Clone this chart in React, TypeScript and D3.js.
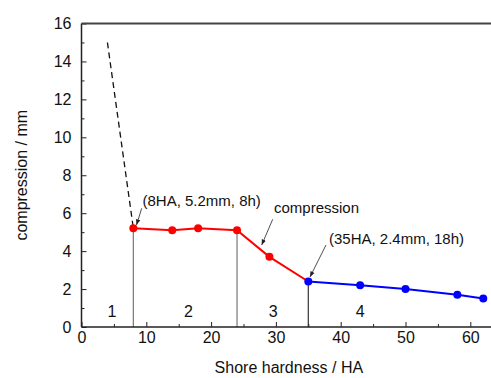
import * as d3 from "d3";
import { useRef, useEffect } from "react";

// stage 2-3 (red) and stage 4 (blue) measurements
const redHardness = [8, 14, 18, 24, 29, 35];
const redCompression = [5.2, 5.1, 5.2, 5.1, 3.7, 2.4];
const blueHardness = [35, 43, 50, 58, 62];
const blueCompression = [2.4, 2.2, 2.0, 1.7, 1.5];
// dashed extrapolation into stage 1
const dashHardness = [4, 8];
const dashCompression = [15, 5.2];
// stage boundaries
const boundaryHardness = [8, 24, 35];
const boundaryCompression = [5.2, 5.1, 2.4];
const boundaryColors = ["#777", "#777", "#333"];
const stageLabels = ["1", "2", "3", "4"];
const stageHardness = [4.7, 16.5, 29.6, 43];

const xMajor = [0, 10, 20, 30, 40, 50, 60];
const xMinor = [5, 15, 25, 35, 45, 55];
const yMajor = [0, 2, 4, 6, 8, 10, 12, 14, 16];
const yMinor = [1, 3, 5, 7, 9, 11, 13, 15];

const width = 491;
const height = 378;
const marginLeft = 81.5;
const marginTop = 23.5;
const marginBottom = 51;
const font = "'Liberation Sans', Arial, sans-serif";

export default function App() {
  const gx = useRef<SVGGElement | null>(null);
  const gxm = useRef<SVGGElement | null>(null);
  const gy = useRef<SVGGElement | null>(null);
  const gym = useRef<SVGGElement | null>(null);

  const x = d3.scaleLinear().domain([0, 65]).range([marginLeft, marginLeft + 6.48 * 65]);
  const y = d3
    .scaleLinear()
    .domain([0, 16])
    .range([height - marginBottom, marginTop]);

  const line = d3.line<number>();
  const pts = (xs: number[], ys: number[]) => xs.map((v, i) => [x(v), y(ys[i])] as [number, number]);

  useEffect(() => {
    const style = (g: d3.Selection<SVGGElement, unknown, null, undefined>) => {
      g.select(".domain").remove();
      g.selectAll("line").attr("stroke", "#222").attr("stroke-width", 1);
      g.selectAll("text").attr("font-family", font).attr("font-size", 16).attr("fill", "#111");
    };
    if (gx.current) {
      d3.select(gx.current)
        .call(d3.axisBottom(x).tickValues(xMajor).tickSize(-5).tickPadding(5))
        .call(style);
    }
    if (gxm.current) {
      d3.select(gxm.current)
        .call(d3.axisBottom(x).tickValues(xMinor).tickSize(-3).tickFormat(() => ""))
        .call(style);
    }
    if (gy.current) {
      d3.select(gy.current)
        .call(d3.axisLeft(y).tickValues(yMajor).tickSize(-5).tickPadding(10))
        .call(style);
    }
    if (gym.current) {
      d3.select(gym.current)
        .call(d3.axisLeft(y).tickValues(yMinor).tickSize(-3).tickFormat(() => ""))
        .call(style);
    }
  }, [x, y]);

  const annotations = [
    { text: "(8HA, 5.2mm, 8h)", tx: 142.5, ty: 205.5, from: [141.7, 208.3], to: [136.5, 225] },
    { text: "compression", tx: 274, ty: 212.5, from: [272.7, 219.3], to: [261.7, 245] },
    { text: "(35HA, 2.4mm, 18h)", tx: 329, ty: 243.5, from: [326, 245], to: [310, 277] },
  ];

  return (
    <svg
      width={width}
      height={height}
      style={{ position: "absolute", left: 0, top: 0, background: "white" }}
    >
      <defs>
        <marker id="arr" viewBox="0 0 10 10" refX="10" refY="5" markerWidth="7" markerHeight="7" orient="auto">
          <path d="M0,1 L10,5 L0,9 Z" fill="#222" />
        </marker>
      </defs>
      {boundaryHardness.map((h, i) => (
        <line
          key={i}
          x1={x(h)}
          x2={x(h)}
          y1={y(0)}
          y2={y(boundaryCompression[i])}
          stroke={boundaryColors[i]}
          strokeWidth={1.2}
        />
      ))}
      <g ref={gxm} transform={`translate(0,${y(0)})`} />
      <g ref={gx} transform={`translate(0,${y(0)})`} />
      <g ref={gym} transform={`translate(${marginLeft},0)`} />
      <g ref={gy} transform={`translate(${marginLeft},0)`} />
      <line x1={marginLeft} x2={width} y1={y(0)} y2={y(0)} stroke="#222" strokeWidth={1.5} />
      <line x1={marginLeft} x2={marginLeft} y1={y(0)} y2={y(16)} stroke="#222" strokeWidth={1.5} />
      <line x1={marginLeft} x2={width} y1={y(16)} y2={y(16)} stroke="#444" strokeWidth={2} />

      <path
        d={line(pts(dashHardness, dashCompression)) || undefined}
        fill="none"
        stroke="#111"
        strokeWidth={1.3}
        strokeDasharray="6,4"
      />
      <path d={line(pts(redHardness, redCompression)) || undefined} fill="none" stroke="#ff0000" strokeWidth={2} />
      <path d={line(pts(blueHardness, blueCompression)) || undefined} fill="none" stroke="#0000ff" strokeWidth={2} />
      {redHardness.slice(0, -1).map((h, i) => (
        <circle key={i} cx={x(h)} cy={y(redCompression[i])} r={4} fill="#ff0000" />
      ))}
      {blueHardness.map((h, i) => (
        <circle key={i} cx={x(h)} cy={y(blueCompression[i])} r={4} fill="#0000ff" />
      ))}

      {stageLabels.map((s, i) => (
        <text
          key={s}
          x={x(stageHardness[i])}
          y={y(0.55)}
          textAnchor="middle"
          fontFamily={font}
          fontSize={16}
          fill="#111"
        >
          {s}
        </text>
      ))}

      {annotations.map((a) => (
        <g key={a.text}>
          <text x={a.tx} y={a.ty} fontFamily={font} fontSize={15} fill="#111">
            {a.text}
          </text>
          <line
            x1={a.from[0]}
            y1={a.from[1]}
            x2={a.to[0]}
            y2={a.to[1]}
            stroke="#222"
            strokeWidth={0.8}
            markerEnd="url(#arr)"
          />
        </g>
      ))}

      <text
        x={x(32)}
        y={373}
        textAnchor="middle"
        fontFamily={font}
        fontSize={16}
        fill="#111"
      >
        Shore hardness / HA
      </text>
      <text
        transform={`translate(27,${(y(0) + y(16)) / 2}) rotate(-90)`}
        textAnchor="middle"
        fontFamily={font}
        fontSize={16}
        fill="#111"
      >
        compression / mm
      </text>
    </svg>
  );
}
